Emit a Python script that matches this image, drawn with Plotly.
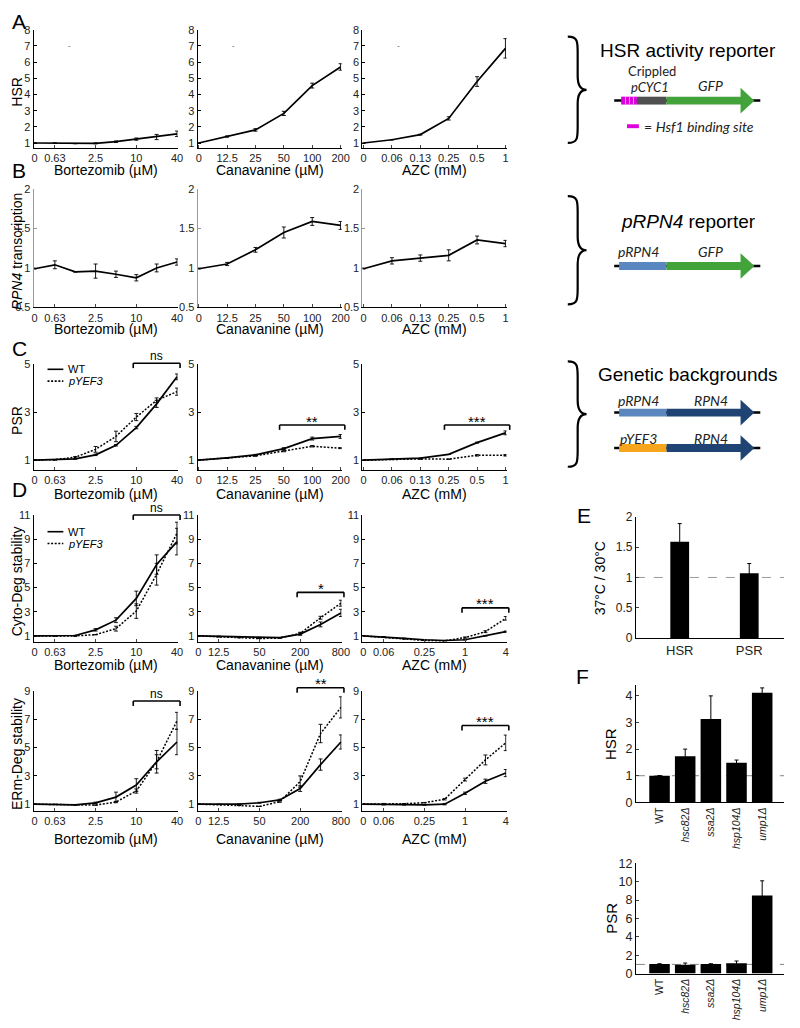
import plotly.graph_objects as go

# target canvas is 800x1028; the page body adds an 8px margin, so the figure is
# made smaller and every layout position below is given in target pixels
W, H = 800, 1028
OFFX, OFFY = 8, 8
FW, FH = W - 2 * OFFX, H - 2 * OFFY
FONT = "Liberation Sans, Arial, sans-serif"
SCHEME_FONT = "Lato, Open Sans, sans-serif"

# doses (categorical x positions) and the doses that get a tick label
BORT_DOSES = ["0", "0.63", "1.25", "2.5", "5", "10", "20", "40"]
BORT_TICKS = ["0", "0.63", "2.5", "10", "40"]
CAN_DOSES = ["0", "12.5", "25", "50", "100", "200"]
AZC_DOSES = ["0", "0.06", "0.13", "0.25", "0.5", "1"]
CAN_DOSES_D = ["0", "12.5", "25", "50", "100", "200", "400", "800"]
CAN_TICKS_D = ["0", "12.5", "50", "200", "800"]
AZC_DOSES_D = ["0", "0.06", "0.13", "0.25", "0.5", "1", "2", "4"]
AZC_TICKS_D = ["0", "0.06", "0.25", "1", "4"]
DRUG_TITLES = ["Bortezomib (µM)", "Canavanine (µM)", "AZC (mM)"]

# A - HSR reporter
HSR_BORT = [1.0, 1.0, 0.96, 0.98, 1.08, 1.24, 1.37, 1.57]
HSR_BORT_ERR = [0.02, 0.0, 0.0, 0.03, 0.05, 0.07, 0.16, 0.17]
HSR_CAN = [1.0, 1.4, 1.81, 2.83, 4.55, 5.7]
HSR_CAN_ERR = [0.0, 0.04, 0.08, 0.13, 0.15, 0.2]
HSR_AZC = [1.0, 1.2, 1.52, 2.52, 4.8, 6.85]
HSR_AZC_ERR = [0.0, 0.0, 0.03, 0.1, 0.3, 0.6]

# B - RPN4 transcription
RPN4_BORT = [0.99, 1.04, 0.95, 0.96, 0.92, 0.875, 1.0, 1.075]
RPN4_BORT_ERR = [0.0, 0.05, 0.0, 0.09, 0.04, 0.04, 0.05, 0.04]
RPN4_CAN = [0.99, 1.05, 1.23, 1.45, 1.59, 1.54]
RPN4_CAN_ERR = [0.0, 0.02, 0.03, 0.07, 0.05, 0.05]
RPN4_AZC = [0.99, 1.09, 1.125, 1.16, 1.355, 1.31]
RPN4_AZC_ERR = [0.0, 0.04, 0.04, 0.07, 0.05, 0.04]

# C - PSR, WT vs pYEF3
PSR_BORT_WT = [1.0, 1.01, 1.05, 1.22, 1.62, 2.36, 3.35, 4.48]
PSR_BORT_WT_ERR = [0, 0, 0, 0.03, 0.03, 0.05, 0.15, 0.12]
PSR_BORT_YEF = [1.0, 1.02, 1.12, 1.45, 1.99, 2.8, 3.5, 3.86]
PSR_BORT_YEF_ERR = [0, 0, 0.03, 0.12, 0.22, 0.15, 0.1, 0.15]
PSR_CAN_WT = [1.0, 1.09, 1.22, 1.48, 1.9, 1.99]
PSR_CAN_WT_ERR = [0, 0, 0.02, 0.04, 0.06, 0.08]
PSR_CAN_YEF = [1.0, 1.08, 1.18, 1.38, 1.58, 1.5]
PSR_CAN_YEF_ERR = [0, 0, 0.02, 0.03, 0.03, 0.02]
PSR_AZC_WT = [1.0, 1.04, 1.08, 1.24, 1.73, 2.14]
PSR_AZC_WT_ERR = [0, 0, 0, 0, 0.02, 0.08]
PSR_AZC_YEF = [1.0, 1.03, 1.05, 1.04, 1.2, 1.2]
PSR_AZC_YEF_ERR = [0, 0.01, 0.02, 0.01, 0.03, 0.03]

# D - Cyto-Deg stability
CYTO_BORT_WT = [1.0, 1.0, 1.03, 1.5, 2.3, 4.1, 6.9, 8.8]
CYTO_BORT_WT_ERR = [0, 0, 0, 0.1, 0.2, 0.6, 0.8, 1.1]
CYTO_BORT_YEF = [1.0, 1.0, 1.0, 1.1, 1.6, 3.05, 6.1, 9.5]
CYTO_BORT_YEF_ERR = [0, 0, 0.05, 0, 0.2, 0.6, 0.9, 0.9]
CYTO_CAN_WT = [1.0, 0.97, 0.93, 0.88, 0.85, 1.15, 1.95, 2.9]
CYTO_CAN_WT_ERR = [0, 0, 0, 0, 0, 0.1, 0.2, 0.3]
CYTO_CAN_YEF = [1.0, 0.92, 0.85, 0.78, 0.82, 1.2, 2.5, 3.7]
CYTO_CAN_YEF_ERR = [0, 0, 0, 0, 0, 0.1, 0.12, 0.25]
CYTO_AZC_WT = [1.0, 0.92, 0.8, 0.68, 0.62, 0.68, 1.0, 1.35]
CYTO_AZC_WT_ERR = [0, 0, 0, 0, 0, 0, 0, 0.05]
CYTO_AZC_YEF = [1.0, 0.9, 0.75, 0.62, 0.6, 0.86, 1.35, 2.45]
CYTO_AZC_YEF_ERR = [0, 0, 0, 0, 0, 0.05, 0.08, 0.15]

# D - ERm-Deg stability
ERM_BORT_WT = [1.0, 0.98, 0.95, 1.09, 1.5, 2.35, 4.0, 5.4]
ERM_BORT_WT_ERR = [0, 0, 0, 0.05, 0.35, 0.45, 0.8, 0.9]
ERM_BORT_YEF = [1.0, 0.98, 0.95, 0.93, 1.15, 1.93, 4.0, 6.9]
ERM_BORT_YEF_ERR = [0, 0, 0, 0, 0.05, 0.15, 0.5, 0.6]
ERM_CAN_WT = [1.0, 0.99, 1.0, 1.1, 1.3, 2.1, 3.8, 5.4]
ERM_CAN_WT_ERR = [0, 0, 0, 0.03, 0.05, 0.2, 0.4, 0.5]
ERM_CAN_YEF = [1.0, 0.97, 0.9, 0.84, 1.18, 2.6, 6.0, 7.85]
ERM_CAN_YEF_ERR = [0, 0, 0, 0, 0.05, 0.4, 0.65, 0.75]
ERM_AZC_WT = [1.0, 0.97, 0.95, 0.95, 1.0, 1.77, 2.62, 3.2]
ERM_AZC_WT_ERR = [0, 0, 0, 0, 0.05, 0.08, 0.15, 0.25]
ERM_AZC_YEF = [1.0, 1.0, 1.03, 1.1, 1.35, 2.74, 4.13, 5.34]
ERM_AZC_YEF_ERR = [0, 0.05, 0, 0, 0.05, 0.1, 0.35, 0.55]

# E - temperature ratio
E_LABELS = ["HSR", "PSR"]
E_VALUES = [1.59, 1.07]
E_ERR = [0.3, 0.16]

# F - deletion strains
F_LABELS = ["WT", "<i>hsc82Δ</i>", "<i>ssa2Δ</i>", "<i>hsp104Δ</i>", "<i>ump1Δ</i>"]
F_HSR = [1.0, 1.73, 3.13, 1.49, 4.12]
F_HSR_ERR = [0.0, 0.27, 0.87, 0.1, 0.18]
F_PSR = [1.05, 0.95, 1.05, 1.12, 8.5]
F_PSR_ERR = [0.0, 0.2, 0.0, 0.25, 1.6]


def fx(x):
    return min(1.0, max(0.0, (x - OFFX) / FW))


def fy(y):
    return 1 - (y - OFFY) / FH


fig = go.Figure()
layout = {}
shapes = []
annotations = []
counter = [0]


def next_axes():
    counter[0] += 1
    return "" if counter[0] == 1 else str(counter[0])


def text(x, y, s, size=12, font=FONT, angle=0, xanchor="center", color="black"):
    annotations.append(dict(x=fx(x), y=fy(y), xref="paper", yref="paper", text=s, showarrow=False,
                            textangle=angle, xanchor=xanchor, yanchor="middle",
                            font=dict(size=size, family=font, color=color)))


def pline(x0, y0, x1, y1, width=1.6, dash="solid", color="black"):
    shapes.append(dict(type="line", xref="paper", yref="paper", x0=fx(x0), y0=fy(y0),
                       x1=fx(x1), y1=fy(y1), line=dict(color=color, width=width, dash=dash)))


SOLID, DOT = "solid", "2px,1.6px"
COLS = [(32, 178), (198, 344), (365, 511)]
ROWS = [
    dict(letter="A", ly=15, top=23, bot=143, yr=[0.7, 8.0], yt=[1, 2, 3, 4, 5, 6, 7, 8],
         title="HSR", xt=165, spine="black",
         panels=[(BORT_DOSES, BORT_TICKS, [(HSR_BORT, HSR_BORT_ERR, SOLID)], None),
                 (CAN_DOSES, CAN_DOSES, [(HSR_CAN, HSR_CAN_ERR, SOLID)], None),
                 (AZC_DOSES, AZC_DOSES, [(HSR_AZC, HSR_AZC_ERR, SOLID)], None)]),
    dict(letter="B", ly=166, top=185, bot=305, yr=[0.5, 2.0], yt=[0.5, 1, 1.5, 2],
         title="<i>RPN4</i> transcription", xt=327, spine="#999999",
         panels=[(BORT_DOSES, BORT_TICKS, [(RPN4_BORT, RPN4_BORT_ERR, SOLID)], None),
                 (CAN_DOSES, CAN_DOSES, [(RPN4_CAN, RPN4_CAN_ERR, SOLID)], None),
                 (AZC_DOSES, AZC_DOSES, [(RPN4_AZC, RPN4_AZC_ERR, SOLID)], None)]),
    dict(letter="C", ly=347, top=363, bot=470, yr=[0.6, 5.0], yt=[1, 3, 5],
         title="PSR", xt=495, spine="black", legend=(368, 380),
         panels=[(BORT_DOSES, BORT_TICKS, [(PSR_BORT_WT, PSR_BORT_WT_ERR, SOLID),
                                           (PSR_BORT_YEF, PSR_BORT_YEF_ERR, DOT)], ("ns", "10", "40", 5.05)),
                 (CAN_DOSES, CAN_DOSES, [(PSR_CAN_WT, PSR_CAN_WT_ERR, SOLID),
                                         (PSR_CAN_YEF, PSR_CAN_YEF_ERR, DOT)], ("**", "50", "200", 2.47)),
                 (AZC_DOSES, AZC_DOSES, [(PSR_AZC_WT, PSR_AZC_WT_ERR, SOLID),
                                         (PSR_AZC_YEF, PSR_AZC_YEF_ERR, DOT)], ("***", "0.25", "1", 2.47))]),
    dict(letter="D", ly=490, top=516, bot=645, yr=[0.5, 11], yt=[1, 3, 5, 7, 9, 11],
         title="Cyto-Deg stability", xt=668, spine="black", legend=(533, 545),
         panels=[(BORT_DOSES, BORT_TICKS, [(CYTO_BORT_WT, CYTO_BORT_WT_ERR, SOLID),
                                           (CYTO_BORT_YEF, CYTO_BORT_YEF_ERR, DOT)], ("ns", "10", "40", 11.0)),
                 (CAN_DOSES_D, CAN_TICKS_D, [(CYTO_CAN_WT, CYTO_CAN_WT_ERR, SOLID),
                                             (CYTO_CAN_YEF, CYTO_CAN_YEF_ERR, DOT)], ("*", "200", "800", 4.6)),
                 (AZC_DOSES_D, AZC_TICKS_D, [(CYTO_AZC_WT, CYTO_AZC_WT_ERR, SOLID),
                                             (CYTO_AZC_YEF, CYTO_AZC_YEF_ERR, DOT)], ("***", "1", "4", 3.32))]),
    dict(letter=None, top=695, bot=817, yr=[0.5, 9], yt=[1, 3, 5, 7, 9],
         title="ERm-Deg stability", xt=845, spine="black",
         panels=[(BORT_DOSES, BORT_TICKS, [(ERM_BORT_WT, ERM_BORT_WT_ERR, SOLID),
                                           (ERM_BORT_YEF, ERM_BORT_YEF_ERR, DOT)], ("ns", "10", "40", 8.3)),
                 (CAN_DOSES_D, CAN_TICKS_D, [(ERM_CAN_WT, ERM_CAN_WT_ERR, SOLID),
                                             (ERM_CAN_YEF, ERM_CAN_YEF_ERR, DOT)], ("**", "200", "800", 9.24)),
                 (AZC_DOSES_D, AZC_TICKS_D, [(ERM_AZC_WT, ERM_AZC_WT_ERR, SOLID),
                                             (ERM_AZC_YEF, ERM_AZC_YEF_ERR, DOT)], ("***", "1", "4", 6.57))]),
]

tickfont = dict(size=11, family=FONT, color="#222")
XPAD = 0.04

for row in ROWS:
    unit = (row["bot"] - row["top"]) / (row["yr"][1] - row["yr"][0])  # px per data unit
    for ci, (doses, ticks, series, sig) in enumerate(row["panels"]):
        s = next_axes()
        c0, c1 = COLS[ci]
        xr = [-XPAD, len(doses) - 1 + XPAD]
        layout["xaxis" + s] = dict(
            domain=[fx(c0), fx(c1)], anchor="y" + s, type="category",
            categoryorder="array", categoryarray=doses, range=xr,
            tickmode="array", tickvals=ticks, ticktext=ticks, tickfont=tickfont,
            showline=True, linecolor="black", linewidth=1, ticks="inside", ticklen=3,
            showgrid=False, zeroline=False)
        layout["yaxis" + s] = dict(
            domain=[fy(row["bot"]), fy(row["top"])], anchor="x" + s, range=row["yr"],
            tickmode="array", tickvals=row["yt"], tickfont=tickfont,
            showline=True, linecolor=row["spine"], linewidth=1, ticks="inside", ticklen=3,
            tickcolor=row["spine"], showgrid=False, zeroline=False)
        for vals, err, dash in series:
            fig.add_trace(go.Scatter(
                x=doses, y=vals, mode="lines", xaxis="x" + s, yaxis="y" + s, showlegend=False,
                line=dict(color="black", width=1.7 if dash == SOLID else 1.5, dash=dash),
                error_y=dict(type="data", array=err, color="black", thickness=0.9, width=2),
                cliponaxis=False))
        text((c0 + c1) / 2, row["xt"], DRUG_TITLES[ci], size=14)

        # significance bracket, drawn in page pixels so it may sit above the axis range
        def to_px(i, v):
            return (c0 + (i - xr[0]) / (xr[1] - xr[0]) * (c1 - c0),
                    row["bot"] - (v - row["yr"][0]) * unit)
        if sig:
            label, start, end, level = sig
            xs, yl = to_px(doses.index(start) - 0.15, level)
            xe, _ = to_px(doses.index(end) + 0.15, level)
            pline(xs, yl + 5, xs, yl)
            pline(xs, yl, xe, yl)
            pline(xe, yl, xe, yl + 5)
            text((xs + xe) / 2, yl - (7 if label == "ns" else 4), label, size=12 if label == "ns" else 15)
        if row["letter"] == "A":
            # small stray dash marks present in the original panels
            dx, dy = to_px(1.7 if ci == 0 else 1.22, 7)
            text(dx, dy, "-", size=8, color="#555")
    # y title and panel letter
    text(15, (row["top"] + row["bot"]) / 2 + 3, row["title"], size=14, angle=-90)
    if row["letter"]:
        text(OFFX, row["ly"], row["letter"], size=21, xanchor="left")
    if row.get("legend"):
        for yy, dash, lab in [(row["legend"][0], SOLID, "WT"), (row["legend"][1], DOT, "<i>pYEF3</i>")]:
            pline(46, yy, 62, yy, dash=dash)
            text(65, yy, lab, size=11, xanchor="left")

# ---------- E ----------
s = next_axes()
layout["xaxis" + s] = dict(domain=[fx(642), fx(800)], anchor="y" + s, type="category",
                           range=[-0.63, 1.5], showline=True, linecolor="black", ticks="",
                           tickfont=dict(size=13, family=FONT, color="#222"), showgrid=False)
layout["yaxis" + s] = dict(domain=[fy(641), fy(518)], anchor="x" + s, range=[0, 2],
                           tickvals=[0, 0.5, 1, 1.5, 2], ticktext=["0", "0.5", "1", "1.5", "2"],
                           showline=True, linecolor="black", ticks="inside", ticklen=3,
                           tickfont=dict(size=12, family=FONT, color="#222"), showgrid=False, zeroline=False)
fig.add_trace(go.Bar(x=E_LABELS, y=E_VALUES, width=0.27, marker=dict(color="black", line_width=0),
                     error_y=dict(type="data", array=E_ERR, color="black", thickness=1, width=2),
                     xaxis="x" + s, yaxis="y" + s, showlegend=False))
shapes.append(dict(type="line", xref="x" + s + " domain", yref="y" + s, x0=0, x1=1, y0=1, y1=1,
                   line=dict(color="#999999", width=1, dash="dash"), layer="below"))
text(589, 517, "E", size=21)
text(606, 580, "37°C / 30°C", size=14, angle=-90)

# ---------- F ----------
for vals, err, top, bot, yr, yt, title in [
        (F_HSR, F_HSR_ERR, 689, 808, [0, 4.4], [0, 1, 2, 3, 4], "HSR"),
        (F_PSR, F_PSR_ERR, 870, 982, [0, 12], [0, 2, 4, 6, 8, 10, 12], "PSR")]:
    s = next_axes()
    layout["xaxis" + s] = dict(domain=[fx(642), fx(800)], anchor="y" + s, type="category",
                               range=[-0.92, 4.85], showline=True, linecolor="black", ticks="",
                               tickangle=-90, tickfont=dict(size=10.5, family=FONT, color="#222"),
                               showgrid=False)
    layout["yaxis" + s] = dict(domain=[fy(bot), fy(top)], anchor="x" + s, range=yr, tickvals=yt,
                               showline=True, linecolor="black", ticks="inside", ticklen=3,
                               tickfont=dict(size=12.5, family=FONT, color="#222"),
                               showgrid=False, zeroline=False)
    fig.add_trace(go.Bar(x=F_LABELS, y=vals, width=0.8, marker=dict(color="black", line_width=0),
                         error_y=dict(type="data", array=err, color="black", thickness=1, width=2),
                         xaxis="x" + s, yaxis="y" + s, showlegend=False))
    shapes.append(dict(type="line", xref="x" + s + " domain", yref="y" + s, x0=0, x1=1, y0=1, y1=1,
                       line=dict(color="#666666", width=0.8, dash="dash"), layer="below"))
    text(617, (top + bot) / 2, title, size=15, angle=-90)
text(588, 680, "F", size=21)


# ---------- schematics on the right ----------
def brace(x0, y0, y1):
    xm, xt, ym = x0 + 10, x0 + 19, (y0 + y1) / 2
    pts = [("M", [(x0, y0)]),
           ("C", [(xm, y0), (xm, y0 + 5), (xm, y0 + 16)]),
           ("L", [(xm, ym - 14)]),
           ("C", [(xm, ym - 5), (xm + 3, ym), (xt, ym)]),
           ("C", [(xm + 3, ym), (xm, ym + 5), (xm, ym + 14)]),
           ("L", [(xm, y1 - 16)]),
           ("C", [(xm, y1 - 5), (xm, y1), (x0, y1)])]
    path = " ".join(cmd + " " + " ".join(f"{fx(a):.5f},{fy(b):.5f}" for a, b in p) for cmd, p in pts)
    shapes.append(dict(type="path", xref="paper", yref="paper", path=path,
                       line=dict(color="black", width=2.2)))


def rect(x0, x1, y0, y1, color):
    shapes.append(dict(type="rect", xref="paper", yref="paper", x0=fx(x0), x1=fx(x1),
                       y0=fy(y1), y1=fy(y0), fillcolor=color, line=dict(width=0)))


def construct(y, promoter_color, gene_color, stripes=False):
    pline(620, y, 768, y, width=2.5)
    if stripes:
        rect(627, 643, y - 4, y + 4, "#dd00dd")
        for xs in [631, 635, 639]:
            rect(xs, xs + 1, y - 4, y + 4, "#f0a0f0")
        rect(643, 673, y - 4, y + 4, "#505050")
    else:
        rect(625, 673, y - 4, y + 4, promoter_color)
    rect(673, 749, y - 4, y + 4, gene_color)
    shapes.append(dict(type="path", xref="paper", yref="paper",
                       path=f"M {fx(748):.5f},{fy(y - 13):.5f} L {fx(762):.5f},{fy(y):.5f} "
                            f"L {fx(748):.5f},{fy(y + 13):.5f} Z",
                       fillcolor=gene_color, line=dict(width=0)))


GREEN = "#42a33a"
NAVY = "#1f4474"
LBL = dict(size=14, font=SCHEME_FONT, color="#222")

brace(573, 30, 138)
text(695, 44, "HSR activity reporter", size=19)
text(658, 65, "Crippled", size=13, font=SCHEME_FONT, color="#222")
text(656, 81, "<i>pCYC1</i>", size=13, font=SCHEME_FONT, color="#222")
text(718, 80, "<i>GFP</i>", **LBL)
construct(95, None, GREEN, stripes=True)
rect(633, 645, 119, 123, "#dd00dd")
text(648, 121, "= <i>Hsf1 binding site</i>", xanchor="left", **LBL)

brace(573, 192, 302)
text(695, 218, "<i>pRPN4</i> reporter", size=19)
text(645, 248, "<i>pRPN4</i>", **LBL)
text(718, 248, "<i>GFP</i>", **LBL)
construct(263, "#5b87c0", GREEN)

brace(573, 360, 467)
text(695, 373, "Genetic backgrounds", size=19)
text(645, 400, "<i>pRPN4</i>", **LBL)
text(718, 400, "<i>RPN4</i>", **LBL)
construct(412, "#5b87be", NAVY)
text(645, 438, "<i>pYEF3</i>", **LBL)
text(718, 438, "<i>RPN4</i>", **LBL)
construct(448, "#f8a51e", NAVY)

fig.update_layout(
    width=FW, height=FH, autosize=False, margin=dict(l=0, r=0, t=0, b=0),
    plot_bgcolor="white", paper_bgcolor="white", showlegend=False,
    font=dict(family=FONT, color="black"),
    shapes=shapes, annotations=annotations, **layout)

fig.write_html("out.html")
